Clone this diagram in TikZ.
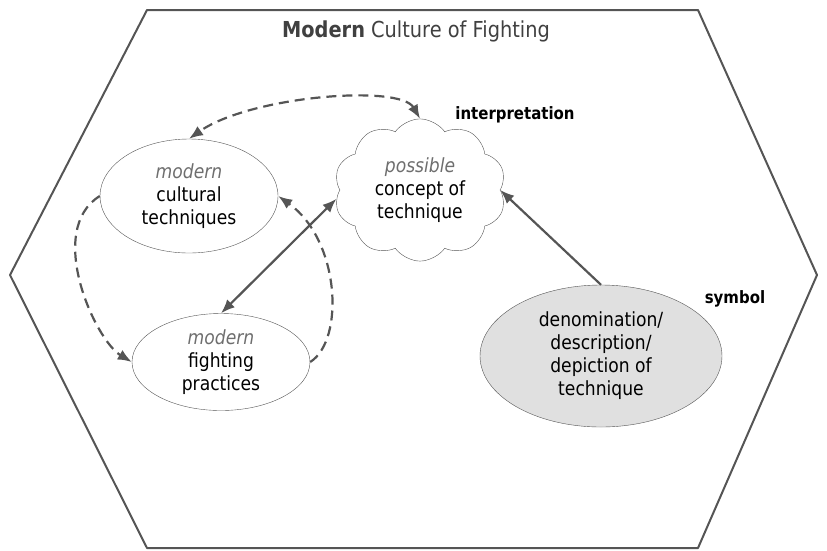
\documentclass[tikz,border=0pt]{standalone}
\usepackage{fontspec}
\setmainfont{DejaVu Sans}[FakeStretch=0.88]
\usepackage{xcolor}
\usetikzlibrary{arrows.meta,shapes.geometric,shapes.symbols}
\definecolor{linegray}{HTML}{555555}
\definecolor{textgray}{HTML}{404040}
\definecolor{softgray}{HTML}{6E6E6E}
\definecolor{symfill}{HTML}{E0E0E0}
\tikzset{
	idea/.style={
			ellipse, draw=linegray, thin, inner sep=0pt, align=center,
			font=\fontsize{19.5}{23}\selectfont
		},
	puff/.style={
			cloud, cloud puffs=10, cloud puff arc=110, draw=linegray, thin,
			inner sep=0pt, align=center, font=\fontsize{19.5}{23}\selectfont
		},
	tip/.style={arrows={-Latex[length=14pt,width=11pt]}},
	bothtips/.style={arrows={Latex[length=14pt,width=11pt]-Latex[length=14pt,width=11pt]}},
	link/.style={line width=2.2pt, draw=linegray, tip},
	dashlink/.style={link, dash pattern=on 10pt off 6pt},
	tag/.style={font=\fontsize{17}{20}\selectfont\bfseries}
}
\newcommand{\soft}[1]{\textcolor{softgray}{\itshape #1}}
\begin{document}
\begin{tikzpicture}[x=1pt,y=-1pt]

			\useasboundingbox (0,0) rectangle (827,550);

			% Draw the frame
			\draw[line width=2pt, draw=linegray, line join=round]
			(147,10) -- (698,10) -- (817,275) -- (698,548) -- (147,548) -- (10,275) -- cycle;
			\node (title) at (416,31) {\fontsize{22}{26}\selectfont\color{textgray}\textbf{Modern} Culture of Fighting};

			% Draw the ideas
			\node[idea, minimum width=178pt, minimum height=114pt] (cult) at (189,196)
			{\soft{modern}\\cultural\\techniques};
			\node[idea, minimum width=178pt, minimum height=97pt] (fight) at (221,362)
			{\soft{modern}\\fighting\\practices};
			\node[puff, minimum width=172pt, minimum height=116pt] (concept) at (420,190)
			{\soft{possible}\\concept of\\technique};
			\node[idea, fill=symfill, minimum width=242pt, minimum height=142pt] (sym) at (601,356)
			{denomination/\\description/\\depiction of\\technique};

			% Draw the tags
			\node[tag] (interp) at (515,115) {interpretation};
			\node[tag] (symtag) at (735,299) {symbol};

			% Draw the links
			\draw[dashlink, bothtips]
			(concept.north) .. controls (400,84) and (250,96) .. (cult.north);
			\draw[dashlink] (cult.west) .. controls (45,230) and (95,340) .. (fight.west);
			\draw[dashlink] (fight.east) .. controls (345,340) and (340,240) .. (cult.east);
			\draw[link, bothtips] (fight.north) -- (concept.186);
			\draw[link] (sym.north) -- (concept.east);

		\end{tikzpicture}
\end{document}
